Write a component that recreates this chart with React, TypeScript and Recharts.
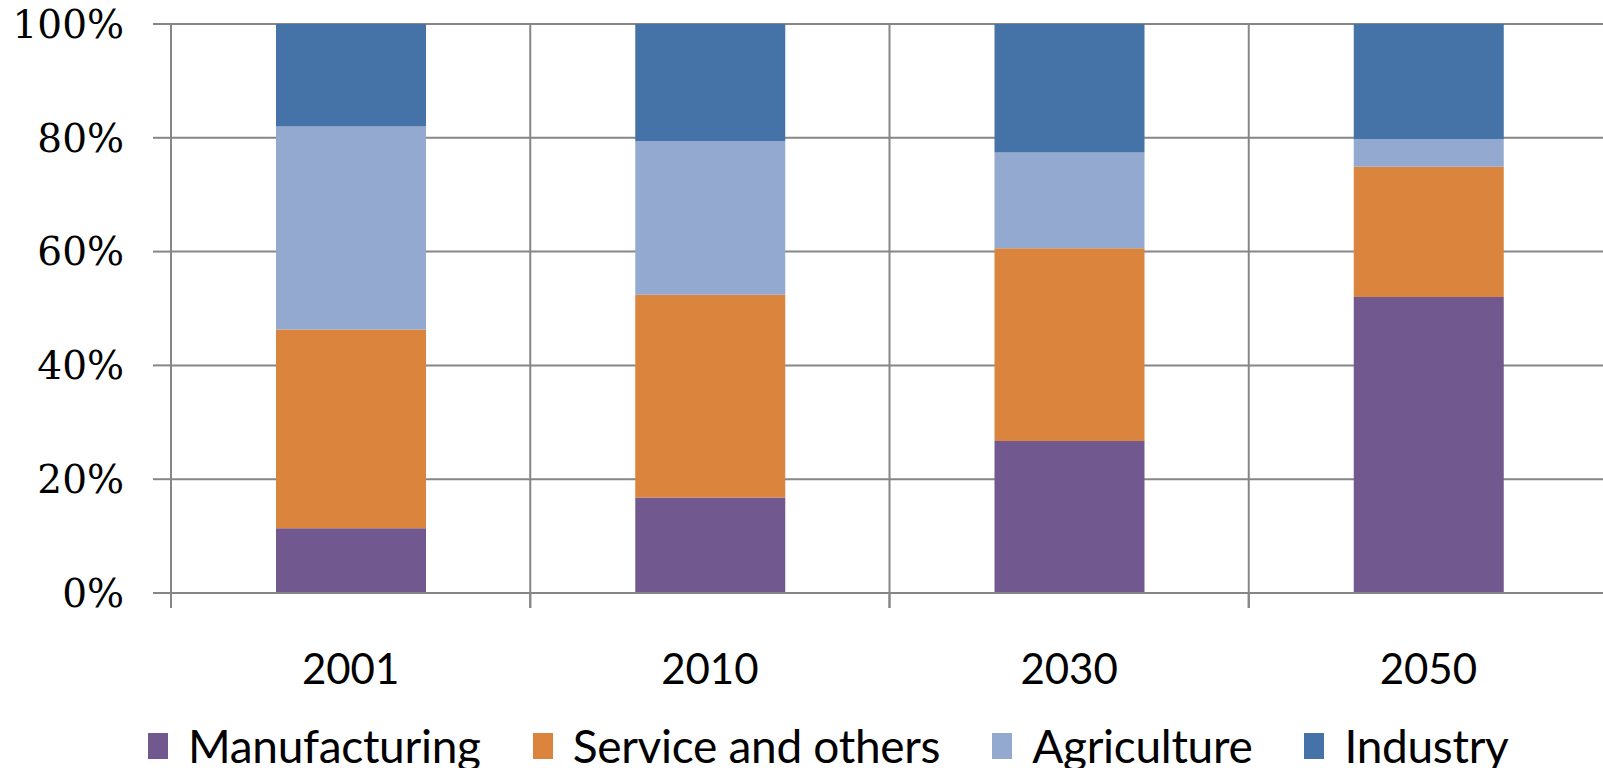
import { BarChart, Bar, XAxis, YAxis, CartesianGrid, Legend } from 'recharts';

// shares in percent
const years = ['2001', '2010', '2030', '2050'];
const manufacturing = [11.4, 16.8, 26.7, 52.0];
const service = [34.9, 35.6, 33.9, 22.9];
const agriculture = [35.7, 27.0, 16.8, 4.9];
const industry = [18.0, 20.6, 22.6, 20.2];
const percentTicks = [0, 20, 40, 60, 80, 100];

const SERIES = [
  { key: 'manufacturing', name: 'Manufacturing', color: '#71588F' },
  { key: 'service', name: 'Service and others', color: '#DB843D' },
  { key: 'agriculture', name: 'Agriculture', color: '#93A9CF' },
  { key: 'industry', name: 'Industry', color: '#4572A7' },
];

const data = years.map((year, i) => ({
  year,
  manufacturing: manufacturing[i],
  service: service[i],
  agriculture: agriculture[i],
  industry: industry[i],
}));

const CHART_W = 1608;
const CHART_H = 768;
const AXIS_W = 171;
const GRID = '#868686';
const band = (CHART_W - AXIS_W) / years.length;

function YearTick({ x, y, payload }: any) {
  const left = x - band / 2;
  return (
    <g>
      <line x1={left} y1={y} x2={left} y2={y + 15} stroke={GRID} strokeWidth={2} />
      <line x1={left + band} y1={y} x2={left + band} y2={y + 15} stroke={GRID} strokeWidth={2} />
      <text x={x} y={y + 91} textAnchor="middle" fontFamily="Lato" fontSize={42} fill="#000">
        {payload.value}
      </text>
    </g>
  );
}

function LegendRow({ payload }: any) {
  // keep the series order instead of the alphabetical one
  const items = SERIES.map((s) => (payload || []).find((p: any) => p.value === s.name)).filter(Boolean);
  return (
    <div
      style={{
        display: 'flex',
        paddingLeft: 148,
        gap: 52,
        fontFamily: 'Lato',
        fontSize: 46,
        lineHeight: '48px',
        letterSpacing: -0.3,
        color: '#000',
        whiteSpace: 'nowrap',
      }}
    >
      {items.map((item: any) => (
        <div key={item.value} style={{ display: 'flex', alignItems: 'center' }}>
          <span
            style={{ display: 'inline-block', width: 20, height: 26, background: item.color, marginRight: 20 }}
          />
          <span>{item.value}</span>
        </div>
      ))}
    </div>
  );
}

export default function App() {
  return (
    <div style={{ position: 'absolute', left: 0, top: 0, width: 1603, height: 768, overflow: 'hidden', background: '#fff' }}>
      <BarChart width={CHART_W} height={CHART_H} data={data} margin={{ top: 24, right: 0, bottom: 0, left: 0 }}>
        <CartesianGrid
          stroke={GRID}
          strokeWidth={2}
          verticalCoordinatesGenerator={({ offset }: any) =>
            [1, 2, 3, 4].map((i) => offset.left + (i * offset.width) / years.length)
          }
        />
        <XAxis
          dataKey="year"
          height={127}
          axisLine={{ stroke: GRID, strokeWidth: 2 }}
          tickLine={false}
          tickSize={0}
          tickMargin={0}
          tick={<YearTick />}
          interval={0}
        />
        <YAxis
          width={AXIS_W}
          domain={[0, 100]}
          ticks={percentTicks}
          interval={0}
          tickFormatter={(v) => `${v}%`}
          axisLine={{ stroke: GRID, strokeWidth: 2 }}
          tickLine={{ stroke: GRID, strokeWidth: 2 }}
          tickSize={18}
          tickMargin={29}
          tick={{ fill: '#000', fontFamily: 'DejaVu Serif', fontSize: 39 }}
        />
        <Legend
          verticalAlign="bottom"
          content={<LegendRow />}
          wrapperStyle={{ left: 0, top: 722, bottom: 'auto', width: 1603, height: 48 }}
        />
        {SERIES.map((s) => (
          <Bar key={s.key} dataKey={s.key} name={s.name} stackId="share" fill={s.color} barSize={150} isAnimationActive={false} />
        ))}
      </BarChart>
    </div>
  );
}
